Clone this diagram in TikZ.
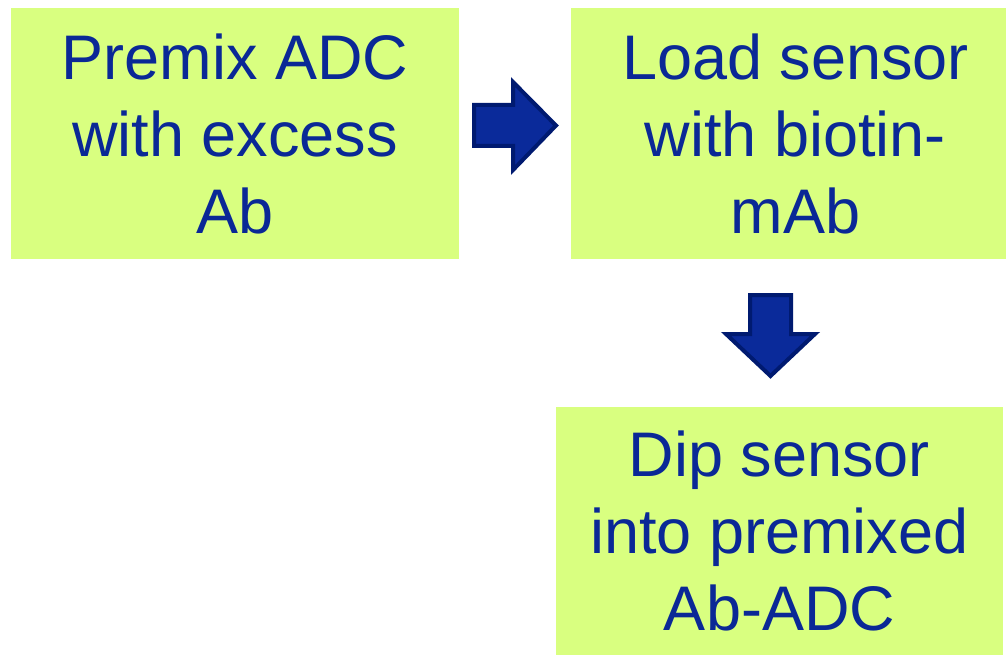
\documentclass[tikz,border=0pt]{standalone}
\usepackage{fontspec}
\setmainfont{Liberation Sans}
\definecolor{boxfill}{HTML}{D9FF80}
\definecolor{txtblue}{HTML}{0A2896}
\definecolor{arrfill}{HTML}{0A2A9A}
\definecolor{arrline}{HTML}{001A70}
\tikzset{
  stepbox/.style={fill=boxfill, draw=none, inner sep=0pt, text=txtblue, align=center,
    font=\fontsize{63}{77}\selectfont},
  steptext/.style={inner sep=0pt, text=txtblue, align=center, font=\fontsize{63}{77}\selectfont},
  bigarrow/.style={fill=arrfill, draw=arrline, line width=4pt, line join=miter}
}
\begin{document}
\begin{tikzpicture}[x=1pt,y=-1pt]
\useasboundingbox (0,0) rectangle (1006,655);
\node[stepbox, minimum width=448pt, minimum height=251pt] (b1) at (235,133.5) {Premix ADC\\with excess\\Ab};
\node[stepbox, minimum width=435pt, minimum height=251pt] (b2) at (788.5,133.5) {};
\node[steptext] (b2t) at (795.5,133.5) {Load sensor\\with biotin-\\mAb};
\node[stepbox, minimum width=447pt, minimum height=248pt] (b3) at (779.5,531) {Dip sensor\\into premixed\\Ab-ADC};
% right arrow
\draw[bigarrow] (474,105) -- (513,105) -- (513,82) -- (556,125.5) -- (513,170) -- (513,146) -- (474,146) -- cycle;
% down arrow
\draw[bigarrow] (750,295) -- (791,295) -- (791,334) -- (815,334) -- (770.5,376) -- (726,334) -- (750,334) -- cycle;
\end{tikzpicture}
\end{document}
